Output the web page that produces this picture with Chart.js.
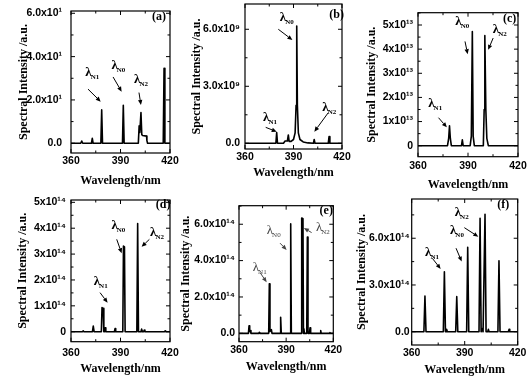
<!DOCTYPE html>
<html>
<head>
<meta charset="utf-8">
<script src="https://cdn.jsdelivr.net/npm/chart.js@4.4.1/dist/chart.umd.min.js"></script>
<style>
  html, body { margin: 0; padding: 0; background: #fff; }
  #wrap { position: relative; width: 531px; height: 378px; overflow: hidden; }
  #wrap canvas { position: absolute; left: 0; top: 0; }
</style>
</head>
<body>
<div id="wrap">
  <canvas id="pa" width="531" height="378"></canvas>
  <canvas id="pb" width="531" height="378"></canvas>
  <canvas id="pc" width="531" height="378"></canvas>
  <canvas id="pd" width="531" height="378"></canvas>
  <canvas id="pe" width="531" height="378"></canvas>
  <canvas id="pf" width="531" height="378"></canvas>
</div>
<script>
// wavelength axis, shared by all six panels
const xTicks = [360, 390, 420];
const xLabels = ['360', '390', '420'];

// (a)
const aWave = [360, 365.9, 366.5, 367.1, 372.4, 372.9, 373.4, 378.1, 378.6, 379.1, 391.2, 391.7, 392.2, 400.8, 401.3, 401.7, 402.4, 402.9, 403.4, 405.8, 406.0, 406.4, 415.9, 416.4, 416.9, 420];
const aInt  = [0, 0, 1.0, 0, 0, 2.3, 0, 0, 15.4, 0, 0, 17.5, 0, 0, 8.0, 5.0, 14.2, 4.0, 3.6, 3.3, 1.2, 0, 0, 34.6, 0, 0];
const aYTicks = [0, 20, 40, 60];
const aYLabels = ['0.0', '2.0x10¹', '4.0x10¹', '6.0x10¹'];

// (b)
const bWave = [360, 379.1, 379.6, 380.1, 383.8, 384.8, 386.2, 386.8, 387.3, 388.5, 390.0, 391.0, 391.6, 392.0, 392.4, 393.0, 394.0, 396.0, 399.0, 402.3, 402.8, 403.3, 411.5, 412.0, 412.5, 420];
const bInt  = [0, 0, 0.56e9, 0, 0, 0.12e9, 0.12e9, 0.44e9, 0.1e9, 0.1e9, 0.2e9, 0.55e9, 2.0e9, 6.17e9, 2.0e9, 0.55e9, 0.2e9, 0.07e9, 0.02e9, 0, 0.2e9, 0, 0, 0.35e9, 0, 0];
const bYTicks = [0, 3e9, 6e9];
const bYLabels = ['0.0', '3.0x10⁹', '6.0x10⁹'];

// (c)
const cWave = [360, 377.7, 378.4, 378.9, 379.4, 380.0, 386.1, 386.6, 387.1, 391.3, 392.0, 392.6, 393.1, 393.8, 399.2, 399.7, 400.1, 400.7, 401.3, 402.2, 420];
const cInt  = [0, 0, 0.3e13, 0.82e13, 0.3e13, 0, 0, 0.24e13, 0, 0, 0.4e13, 4.73e13, 0.4e13, 0, 0, 1.5e13, 4.56e13, 1.5e13, 0.3e13, 0, 0];
const cYTicks = [0, 1e13, 2e13, 3e13, 4e13, 5e13];
const cYLabels = ['0', '1x10¹³', '2x10¹³', '3x10¹³', '4x10¹³', '5x10¹³'];

// (d)
const dWave = [360, 366.9, 367.4, 367.9, 373.0, 373.5, 374.0, 378.4, 378.8, 379.5, 379.9, 380.3, 380.7, 381.1, 386.3, 386.7, 387.1, 391.4, 391.8, 392.4, 392.8, 399.9, 400.4, 400.9, 402.4, 402.8, 403.3, 404.0, 404.4, 404.8, 416.6, 417.0, 417.4, 420];
const dInt  = [0, 0, 0.03e14, 0, 0, 0.22e14, 0, 0, 0.93e14, 0.9e14, 0, 0, 0.15e14, 0, 0, 0.12e14, 0, 0, 3.31e14, 3.28e14, 0, 0, 4.18e14, 0, 0, 0.1e14, 0, 0, 0.06e14, 0, 0, 0.03e14, 0, 0];
const dYTicks = [0, 1e14, 2e14, 3e14, 4e14, 5e14];
const dYLabels = ['0', '1x10¹⁴', '2x10¹⁴', '3x10¹⁴', '4x10¹⁴', '5x10¹⁴'];

// (e)
const eWave = [360, 366.0, 366.4, 366.8, 367.2, 367.6, 372.6, 372.9, 373.2, 378.9, 379.3, 379.7, 380.6, 381.0, 386.1, 386.5, 386.9, 392.5, 392.9, 393.3, 399.6, 399.9, 400.7, 401.0, 401.3, 401.6, 403.1, 403.5, 403.9, 404.8, 405.2, 405.6, 411.7, 412.0, 412.3, 417.6, 417.9, 418.2, 420];
const eInt  = [0, 0, 0.42e14, 0.1e14, 0.15e14, 0, 0, 0.05e14, 0, 0, 2.72e14, 0.1e14, 0.2e14, 0, 0, 0.88e14, 0, 0, 6.02e14, 0, 0, 6.34e14, 6.3e14, 0, 0.25e14, 0, 0, 5.29e14, 0, 0, 0.3e14, 0, 0, 0.15e14, 0, 0, 0.04e14, 0, 0];
const eYTicks = [0, 2e14, 4e14, 6e14];
const eYLabels = ['0.0', '2.0x10¹⁴', '4.0x10¹⁴', '6.0x10¹⁴'];

// (f)
const fWave = [360, 366.9, 367.5, 368.1, 377.9, 378.5, 379.1, 379.5, 379.8, 380.2, 384.9, 385.5, 386.1, 391.1, 391.7, 392.3, 398.1, 398.7, 399.3, 399.7, 400.0, 400.4, 400.9, 401.5, 402.1, 403.0, 403.4, 403.8, 408.8, 409.4, 410.0, 414.7, 415.1, 415.5, 420];
const fInt  = [0, 0, 2.29e14, 0, 0, 3.85e14, 0, 0, 0.15e14, 0, 0, 2.25e14, 0, 0, 5.42e14, 0, 0, 7.28e14, 0, 0, 0.2e14, 0, 0, 7.54e14, 0, 0, 0.15e14, 0, 0, 4.56e14, 0, 0, 0.15e14, 0, 0];
const fYTicks = [0, 3e14, 6e14];
const fYLabels = ['0.0', '3.0x10¹⁴', '6.0x10¹⁴'];

const W = 531, H = 378;
const SERIF = '"Liberation Serif", "Times New Roman", serif';
const SANS = '"Liberation Sans", Arial, sans-serif';
const TITLE_SIZE = 12, LH = TITLE_SIZE * 1.2;

// layout of each panel: plot box [left, top, right, bottom] in page pixels,
// y range, title centres, label paddings, and the lambda notes in data units
const panels = [
  { id: 'pa', wave: aWave, inten: aInt, yTicks: aYTicks, yLabels: aYLabels,
    box: [71, 11, 170, 153], yMin: -4.5, yMax: 61.06, yTitleX: 24.3, xTitleY: 181, yPad: 9, xPad: 2,
    tag: '(a)', tagAt: [413.3, 58.5], light: false,
    notes: [
      { sub: 'N1', at: [372.9, 32.8], from: [370.3, 25.0], to: [378.0, 19.2] },
      { sub: 'N0', at: [388.7, 36.2], from: [385.5, 30.6], to: [390.7, 23.8] },
      { sub: 'N2', at: [402.4, 29.6], from: [401.2, 23.4], to: [402.4, 17.7] }
    ] },
  { id: 'pb', wave: bWave, inten: bInt, yTicks: bYTicks, yLabels: bYLabels,
    box: [245, 4, 342, 149], yMin: -0.3e9, yMax: 7.33e9, yTitleX: 196.7, xTitleY: 172.7, yPad: 5, xPad: 1.5,
    tag: '(b)', tagAt: [416.7, 6.75e9], light: false,
    notes: [
      { sub: 'N0', at: [385.8, 6.63e9], from: [380.6, 6.0e9], to: [389.3, 5.44e9] },
      { sub: 'N1', at: [375.5, 1.37e9], from: [372.8, 0.84e9], to: [379.6, 0.61e9] },
      { sub: 'N2', at: [412.1, 1.89e9], from: [411.5, 1.61e9], to: [402.9, 0.61e9] }
    ] },
  { id: 'pc', wave: cWave, inten: cInt, yTicks: cYTicks, yLabels: cYLabels,
    box: [418, 12.7, 518, 156.7], yMin: -0.456e13, yMax: 5.51e13, yTitleX: 371.7, xTitleY: 185, yPad: 5, xPad: 2.7,
    tag: '(c)', tagAt: [415.0, 5.24e13], light: false,
    notes: [
      { sub: 'N0', at: [386.6, 5.15e13], from: [388.2, 4.32e13], to: [389.8, 3.79e13] },
      { sub: 'N2', at: [409.1, 4.84e13], from: [405.1, 4.46e13], to: [402.1, 3.97e13] },
      { sub: 'N1', at: [370.3, 1.76e13], from: [372.3, 1.16e13], to: [377.3, 0.76e13] }
    ] },
  { id: 'pd', wave: dWave, inten: dInt, yTicks: dYTicks, yLabels: dYLabels,
    box: [71, 200, 170, 341.7], yMin: -0.386e14, yMax: 5.09e14, yTitleX: 22.7, xTitleY: 369, yPad: 5, xPad: 5,
    tag: '(d)', tagAt: [415.8, 4.89e14], light: false,
    notes: [
      { sub: 'N0', at: [388.7, 4.12e14], from: [387.7, 3.57e14], to: [390.7, 3.03e14] },
      { sub: 'N2', at: [412.1, 3.86e14], from: [407.5, 3.57e14], to: [402.8, 3.28e14] },
      { sub: 'N1', at: [378.0, 1.95e14], from: [377.6, 1.51e14], to: [382.2, 1.12e14] }
    ] },
  { id: 'pe', wave: eWave, inten: eInt, yTicks: eYTicks, yLabels: eYLabels,
    box: [239, 205.7, 333.3, 341.7], yMin: -0.46e14, yMax: 7.02e14, yTitleX: 186, xTitleY: 366.7, yPad: 4, xPad: 2,
    tag: '(e)', tagAt: [415.5, 6.75e14], light: true,
    notes: [
      { sub: 'N0', at: [382.1, 5.67e14], from: [386.1, 4.96e14], to: [390.3, 4.59e14] },
      { sub: 'N2', at: [413.4, 5.84e14], from: [406.2, 5.54e14], to: [401.3, 5.79e14] },
      { sub: 'N1', at: [373.2, 3.65e14], from: [373.4, 3.34e14], to: [377.6, 2.81e14] }
    ] },
  { id: 'pf', wave: fWave, inten: fInt, yTicks: fYTicks, yLabels: fYLabels,
    box: [411.7, 199, 517.7, 345], yMin: -0.854e14, yMax: 8.52e14, yTitleX: 361.7, xTitleY: 370, yPad: 2, xPad: 2,
    tag: '(f)', tagAt: [411.8, 8.14e14], light: false,
    notes: [
      { sub: 'N2', at: [388.3, 7.67e14], from: [389.8, 6.68e14], to: [397.7, 6.10e14] },
      { sub: 'N0', at: [385.6, 6.53e14], from: [385.1, 5.36e14], to: [388.3, 4.50e14] },
      { sub: 'N1', at: [371.5, 5.14e14], from: [371.7, 4.71e14], to: [376.4, 4.03e14] }
    ] }
];

function minorsOf(majors, lo, hi) {
  const step = majors[1] - majors[0];
  const out = [majors[0] - step / 2];
  majors.forEach(v => out.push(v + step / 2));
  return out.filter(v => v > lo && v < hi);
}

function arrow(ctx, x1, y1, x2, y2, color) {
  const ang = Math.atan2(y2 - y1, x2 - x1);
  const hl = 5, hw = 2.2;
  const bx = x2 - hl * Math.cos(ang), by = y2 - hl * Math.sin(ang);
  ctx.strokeStyle = color;
  ctx.fillStyle = color;
  ctx.lineWidth = 1;
  ctx.beginPath();
  ctx.moveTo(x1, y1);
  ctx.lineTo(bx, by);
  ctx.stroke();
  ctx.beginPath();
  ctx.moveTo(x2, y2);
  ctx.lineTo(bx + hw * Math.sin(ang), by - hw * Math.cos(ang));
  ctx.lineTo(bx - hw * Math.sin(ang), by + hw * Math.cos(ang));
  ctx.closePath();
  ctx.fill();
}

function drawFrame(chart, p) {
  const { ctx, chartArea: a } = chart;
  const xs = chart.scales.x, ys = chart.scales.y;
  ctx.save();
  ctx.strokeStyle = '#000';
  ctx.lineWidth = 1.2;
  ctx.strokeRect(a.left, a.top, a.right - a.left, a.bottom - a.top);

  // inward ticks on all four sides
  ctx.lineWidth = 1;
  ctx.beginPath();
  const xt = (vals, len) => vals.forEach(v => {
    const px = xs.getPixelForValue(v);
    ctx.moveTo(px, a.bottom); ctx.lineTo(px, a.bottom - len);
    ctx.moveTo(px, a.top); ctx.lineTo(px, a.top + len);
  });
  const yt = (vals, len) => vals.forEach(v => {
    const py = ys.getPixelForValue(v);
    ctx.moveTo(a.left, py); ctx.lineTo(a.left + len, py);
    ctx.moveTo(a.right, py); ctx.lineTo(a.right - len, py);
  });
  xt(xTicks, 4);
  xt(minorsOf(xTicks, xs.min, xs.max), 2.5);
  yt(p.yTicks, 4);
  yt(minorsOf(p.yTicks, ys.min, ys.max), 2.5);
  ctx.stroke();

  // panel tag
  ctx.fillStyle = '#000';
  ctx.font = 'bold 12px ' + SERIF;
  ctx.textAlign = 'center';
  ctx.textBaseline = 'middle';
  ctx.fillText(p.tag, xs.getPixelForValue(p.tagAt[0]), ys.getPixelForValue(p.tagAt[1]));

  // lambda labels with arrows
  const weight = p.light ? '' : 'bold ';
  const color = p.light ? '#444' : '#000';
  p.notes.forEach(n => {
    const cx = xs.getPixelForValue(n.at[0]), cy = ys.getPixelForValue(n.at[1]);
    ctx.font = weight + '13px ' + SERIF;
    const wl = ctx.measureText('λ').width;
    ctx.font = weight + '7px ' + SERIF;
    const ws = ctx.measureText(n.sub).width;
    const x0 = cx - (wl + ws - 1) / 2;
    ctx.fillStyle = color;
    ctx.textAlign = 'left';
    ctx.textBaseline = 'alphabetic';
    ctx.font = weight + '13px ' + SERIF;
    ctx.fillText('λ', x0, cy + 4);
    ctx.font = weight + '7px ' + SERIF;
    ctx.fillText(n.sub, x0 + wl - 1, cy + 7);
    arrow(ctx,
      xs.getPixelForValue(n.from[0]), ys.getPixelForValue(n.from[1]),
      xs.getPixelForValue(n.to[0]), ys.getPixelForValue(n.to[1]), color);
  });
  ctx.restore();
}

function makePanel(p) {
  const padL = p.yTitleX - LH / 2;
  const padB = H - (p.xTitleY + LH / 2);
  const yW = p.box[0] - padL;
  const xH = (H - padB) - p.box[3];
  const tickFont = { family: SANS, weight: 'bold', size: 10.5 };
  const titleFont = { family: SERIF, weight: 'bold', size: TITLE_SIZE };

  new Chart(document.getElementById(p.id), {
    type: 'line',
    data: {
      datasets: [{
        data: p.wave.map((w, i) => ({ x: w, y: p.inten[i] })),
        borderColor: '#000',
        borderWidth: 1.6,
        borderJoinStyle: 'round',
        pointRadius: 0,
        tension: 0,
        fill: false
      }]
    },
    options: {
      responsive: false,
      animation: false,
      devicePixelRatio: 1,
      layout: { padding: { left: padL, top: p.box[1], right: W - p.box[2], bottom: padB } },
      plugins: { legend: { display: false }, tooltip: { enabled: false } },
      scales: {
        x: {
          type: 'linear',
          min: 360,
          max: 420,
          grid: { display: false, drawTicks: false },
          border: { display: false },
          afterBuildTicks: s => { s.ticks = xTicks.map(v => ({ value: v })); },
          afterFit: s => { s.height = xH; s.paddingLeft = 0; s.paddingRight = 0; },
          ticks: {
            autoSkip: false,
            maxRotation: 0,
            padding: p.xPad,
            color: '#000',
            font: tickFont,
            callback: v => xLabels[xTicks.indexOf(v)]
          },
          title: { display: true, text: 'Wavelength/nm', color: '#000', font: titleFont, padding: 0 }
        },
        y: {
          type: 'linear',
          min: p.yMin,
          max: p.yMax,
          grid: { display: false, drawTicks: false },
          border: { display: false },
          afterBuildTicks: s => { s.ticks = p.yTicks.map(v => ({ value: v })); },
          afterFit: s => { s.width = yW; s.paddingTop = 0; s.paddingBottom = 0; },
          ticks: {
            autoSkip: false,
            padding: p.yPad,
            color: '#000',
            font: tickFont,
            callback: v => p.yLabels[p.yTicks.indexOf(v)]
          },
          title: { display: true, text: 'Spectral Intensity /a.u.', color: '#000', font: titleFont, padding: 0 }
        }
      }
    },
    plugins: [{ id: 'frame', afterDraw: chart => drawFrame(chart, p) }]
  });
}

panels.forEach(makePanel);
</script>
</body>
</html>
